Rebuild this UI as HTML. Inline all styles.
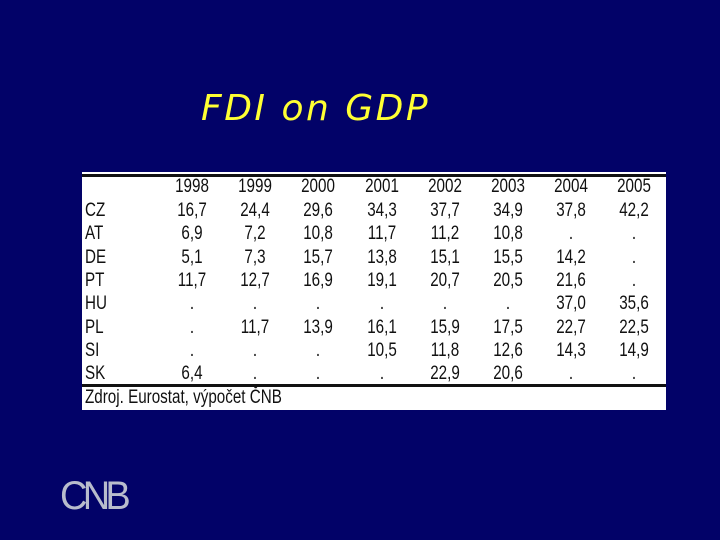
<!DOCTYPE html>
<html><head><meta charset="utf-8"><style>
body{margin:0;width:720px;height:540px;background:#020268;overflow:hidden;position:relative;font-family:"Liberation Sans",sans-serif}
#title{position:absolute;left:201px;top:88px;color:#ffff33;font-family:"DejaVu Sans",sans-serif;font-style:italic;font-size:36px;white-space:nowrap;letter-spacing:2.5px;line-height:42px}
#tbl{position:absolute;left:82px;top:172px;width:584px;height:238px;background:#fff}
.t{position:absolute;font-size:19px;color:#111;transform:translate(-50%,-50%) scaleX(0.8);white-space:nowrap}
.l{position:absolute;font-size:19px;color:#111;transform:translateY(-50%) scaleX(0.8);transform-origin:left center;white-space:nowrap}
.line{position:absolute;left:0;width:584px;height:3px;background:#111}
#logo{position:absolute;left:60px;top:474px;font-size:40px;color:#b8bccc;letter-spacing:-5px;transform:scaleX(0.95);transform-origin:left}
</style></head><body>
<div id="title">FDI on GDP</div>
<div id="tbl"></div>
<div id="logo">CNB</div>
<script>
const years=["1998","1999","2000","2001","2002","2003","2004","2005"];
const countries=["CZ","AT","DE","PT","HU","PL","SI","SK"];
const vCZ=["16,7","24,4","29,6","34,3","37,7","34,9","37,8","42,2"];
const vAT=["6,9","7,2","10,8","11,7","11,2","10,8",".","."];
const vDE=["5,1","7,3","15,7","13,8","15,1","15,5","14,2","."];
const vPT=["11,7","12,7","16,9","19,1","20,7","20,5","21,6","."];
const vHU=[".",".",".",".",".",".","37,0","35,6"];
const vPL=[".","11,7","13,9","16,1","15,9","17,5","22,7","22,5"];
const vSI=[".",".",".","10,5","11,8","12,6","14,3","14,9"];
const vSK=["6,4",".",".",".","22,9","20,6",".","."];
const rows=[vCZ,vAT,vDE,vPT,vHU,vPL,vSI,vSK];
const t=document.getElementById('tbl');
const cx=i=>110+i*63.2, ry=i=>39+i*23.3;
function add(cls,txt,x,y,name){const d=document.createElement('div');d.className=cls;d.textContent=txt;d.style.left=x+'px';d.style.top=y+'px';


t.appendChild(d);}
function line(y,name){const d=document.createElement('div');d.className='line';d.style.top=y+'px';


t.appendChild(d);}
line(2,'top-rule');line(212,'bottom-rule');
years.forEach((y,i)=>add('t',y,cx(i),15,'year-header'));
countries.forEach((c,r)=>{add('l',c,3,ry(r),'country-label');rows[r].forEach((v,i)=>add('t',v,cx(i),ry(r),'cell-value'));});
add('l','Zdroj. Eurostat, výpočet ČNB',3,226,'source-note');
</script>
</body></html>
